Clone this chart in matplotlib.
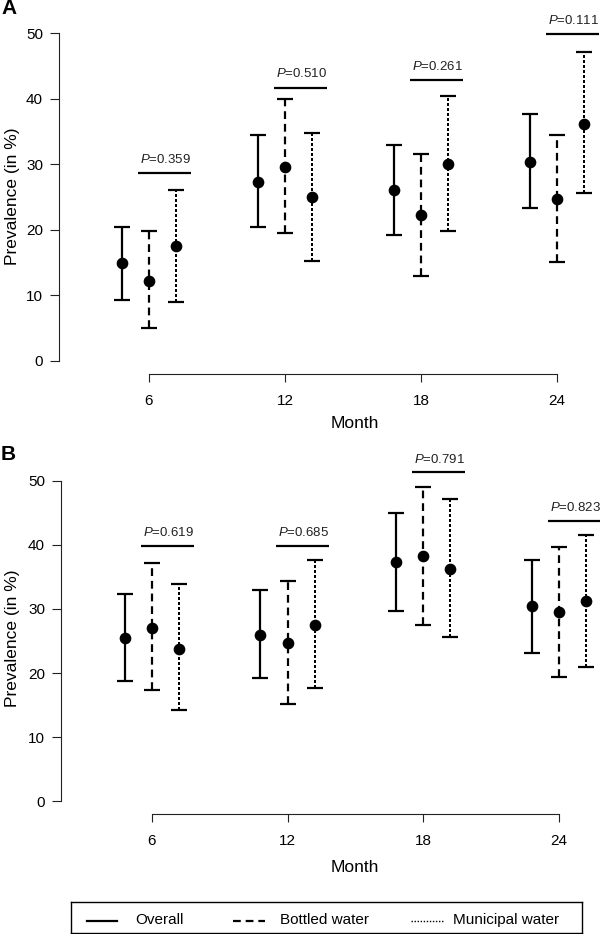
import matplotlib
matplotlib.use("Agg")
import matplotlib.pyplot as plt

plt.rcParams['font.family'] = ['Liberation Sans', 'DejaVu Sans']
plt.rcParams['mathtext.fontset'] = 'custom'
plt.rcParams['mathtext.it'] = 'Liberation Sans:italic'
plt.rcParams['mathtext.rm'] = 'Liberation Sans'

# ---------------- data ----------------
months = [6, 12, 18, 24]
month_labels = ["6", "12", "18", "24"]
series_names = ["Overall", "Bottled water", "Municipal water"]

# Panel A
overall_mid_A = [14.9, 27.3, 26.1, 30.4]
overall_lo_A = [9.3, 20.4, 19.2, 23.3]
overall_hi_A = [20.5, 34.4, 33.0, 37.7]
bottled_mid_A = [12.2, 29.6, 22.3, 24.7]
bottled_lo_A = [5.0, 19.5, 13.0, 15.1]
bottled_hi_A = [19.8, 39.9, 31.5, 34.4]
municipal_mid_A = [17.5, 25.0, 30.0, 36.2]
municipal_lo_A = [9.0, 15.3, 19.8, 25.6]
municipal_hi_A = [26.1, 34.8, 40.4, 47.1]
p_A = ["0.359", "0.510", "0.261", "0.111"]
pbar_A = [28.6, 41.7, 42.8, 49.8]

# Panel B
overall_mid_B = [25.5, 26.0, 37.3, 30.4]
overall_lo_B = [18.7, 19.2, 29.7, 23.2]
overall_hi_B = [32.3, 33.0, 44.9, 37.6]
bottled_mid_B = [27.1, 24.7, 38.2, 29.6]
bottled_lo_B = [17.3, 15.2, 27.5, 19.4]
bottled_hi_B = [37.1, 34.4, 49.1, 39.7]
municipal_mid_B = [23.7, 27.5, 36.2, 31.2]
municipal_lo_B = [14.2, 17.6, 25.6, 21.0]
municipal_hi_B = [33.9, 37.6, 47.1, 41.6]
p_B = ["0.619", "0.685", "0.791", "0.823"]
pbar_B = [39.8, 39.8, 51.3, 43.7]

# ---------------- styling ----------------
W, H = 600, 934
fig = plt.figure(figsize=(W / 100, H / 100), dpi=100)

offsets = [-1.2, 0.0, 1.2]
styles = ['-', (0, (3.5, 2.2)), (0, (1.1, 1.1))]
AX_COLOR = '#222222'


def px_axes(left, top, right, bottom):
    return fig.add_axes([left / W, 1 - bottom / H, (right - left) / W, (bottom - top) / H])


def draw_panel(ax, mids, los, his, pvals, pbars, xlim):
    for k in range(3):
        x = [m + offsets[k] for m in months]
        mid, lo, hi = mids[k], los[k], his[k]
        yerr = [[a - b for a, b in zip(mid, lo)], [c - a for a, c in zip(mid, hi)]]
        cont = ax.errorbar(x, mid, yerr=yerr, fmt='o', color='black', ms=7.4,
                           elinewidth=1.6, capsize=5.8, capthick=1.6, zorder=3)
        cont[2][0].set_linestyle(styles[k])
        cont[2][0].set_capstyle('butt')
        if k == 2:
            cont[2][0].set_antialiased(False)
            cont[2][0].set_linewidth(1.5)
    for m, pv, pb in zip(months, pvals, pbars):
        ax.plot([m - 0.5, m + 1.85], [pb, pb], color='black', lw=1.6, solid_capstyle='butt')
        ax.text(m + 0.72, pb + 2.1, r'$\it{P}$=' + pv, ha='center', va='center',
                fontsize=9.5, color='#222222')
    ax.set_xlim(*xlim)
    ax.set_ylim(-2, 52)
    for s in ['top', 'right']:
        ax.spines[s].set_visible(False)
    ax.spines['left'].set_bounds(0, 50)
    ax.spines['bottom'].set_bounds(6, 24)
    for s in ['left', 'bottom']:
        ax.spines[s].set_linewidth(0.8)
        ax.spines[s].set_color(AX_COLOR)
    ax.set_yticks([0, 10, 20, 30, 40, 50])
    ax.set_xticks(months)
    ax.set_xticklabels(month_labels)
    ax.tick_params(axis='y', length=6.5, width=0.8, pad=5, labelsize=11, color=AX_COLOR)
    ax.tick_params(axis='x', length=5.4, width=0.8, pad=9, labelsize=11, color=AX_COLOR)
    ax.patch.set_alpha(0)


axA = px_axes(59, 20, 600, 374)
draw_panel(axA,
           [overall_mid_A, bottled_mid_A, municipal_mid_A],
           [overall_lo_A, bottled_lo_A, municipal_lo_A],
           [overall_hi_A, bottled_hi_A, municipal_hi_A],
           p_A, pbar_A, (2.03, 25.9))

axB = px_axes(61, 468, 600, 814)
draw_panel(axB,
           [overall_mid_B, bottled_mid_B, municipal_mid_B],
           [overall_lo_B, bottled_lo_B, municipal_lo_B],
           [overall_hi_B, bottled_hi_B, municipal_hi_B],
           p_B, pbar_B, (1.98, 25.82))

# axis labels and panel letters
fig.text(13 / W, 1 - 196 / H, "Prevalence (in %)", rotation=90, ha='center', va='center', fontsize=12.5)
fig.text(13 / W, 1 - 638 / H, "Prevalence (in %)", rotation=90, ha='center', va='center', fontsize=12.5)
fig.text(355 / W, 1 - 423 / H, "Month", ha='center', va='center', fontsize=12.5)
fig.text(355 / W, 1 - 867 / H, "Month", ha='center', va='center', fontsize=12.5)
fig.text(1 / W, 1 - 9 / H, "A", ha='left', va='center', fontsize=15, fontweight='bold')
fig.text(1 / W, 1 - 455 / H, "B", ha='left', va='center', fontsize=15, fontweight='bold')

# legend box
lg = px_axes(71, 902, 582, 933)
lg.set_xlim(71, 582)
lg.set_ylim(933, 902)
lg.set_xticks([])
lg.set_yticks([])
for s in lg.spines.values():
    s.set_linewidth(1.0)
    s.set_color('black')
leg_lines = [(87, 117), (233, 265), (411, 443)]
leg_text_x = [135, 280, 453]
for k, ((x0, x1), tx, name) in enumerate(zip(leg_lines, leg_text_x, series_names)):
    if k == 2:
        lg.plot([x0, x1], [921, 921], color='black', lw=1.0, linestyle=(0, (1, 1.2)))
    else:
        lg.plot([x0, x1], [921, 921], color='black', lw=1.6, linestyle=styles[k])
    lg.text(tx, 920, name, ha='left', va='center', fontsize=11)

fig.savefig("out.png", dpi=100)
